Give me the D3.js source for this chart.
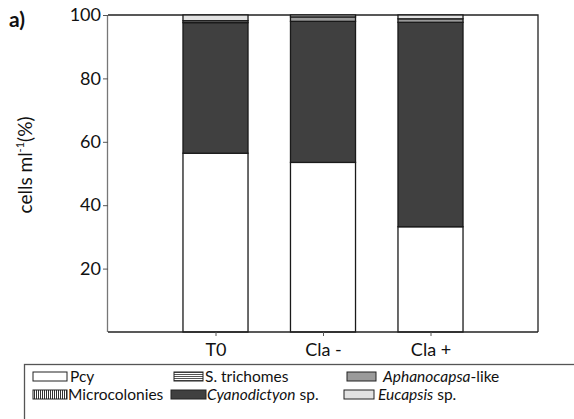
<!DOCTYPE html>
<html>
<head>
<meta charset="utf-8">
<script src="https://cdn.jsdelivr.net/npm/d3@7"></script>
<style>
  body { margin: 0; background: #fff; }
  text { font-family: Lato, "Open Sans", sans-serif; fill: #111; }
</style>
</head>
<body>
<div id="chart"></div>
<script>
const categories = ['T0', 'Cla -', 'Cla +'];
const pcy = [56.4, 53.5, 33.2];
const microcolonies = [0, 0, 0];
const trichomes = [0, 0, 0];
const cyanodictyon = [41.2, 44.5, 64.5];
const aphanocapsa = [0.6, 1.4, 1.1];
const eucapsis = [1.8, 0.6, 1.2];
const yTicks = [20, 40, 60, 80, 100];

const WIDTH = 574;
const HEIGHT = 419;
const LEFT = 108, RIGHT = 538, TOP = 15, BOTTOM = 332;

const series = [
    { key: 'pcy', name: 'Pcy', values: pcy, fill: '#ffffff' },
    { key: 'micro', name: 'Microcolonies', values: microcolonies, fill: 'url(#vlines)' },
    { key: 'tri', name: 'S. trichomes', values: trichomes, fill: 'url(#hlines)' },
    { key: 'cyano', name: 'Cyanodictyon', values: cyanodictyon, fill: '#404040' },
    { key: 'aph', name: 'Aphanocapsa', values: aphanocapsa, fill: '#9a9a9a' },
    { key: 'euc', name: 'Eucapsis', values: eucapsis, fill: '#e2e2e2' }
];

const table = categories.map((c, i) => {
    const row = { cat: c, idx: i };
    series.forEach(s => { row[s.key] = s.values[i]; });
    return row;
});

const svg = d3.select('#chart')
    .append('svg')
    .attr('width', WIDTH)
    .attr('height', HEIGHT);

// patterns for the hatched layers
const defs = svg.append('defs');
const vp = defs.append('pattern').attr('id', 'vlines')
    .attr('patternUnits', 'userSpaceOnUse').attr('width', 2).attr('height', 4);
vp.append('rect').attr('width', 2).attr('height', 4).attr('fill', '#fff');
vp.append('rect').attr('width', 1).attr('height', 4).attr('fill', '#333');
const hp = defs.append('pattern').attr('id', 'hlines')
    .attr('patternUnits', 'userSpaceOnUse').attr('width', 4).attr('height', 2);
hp.append('rect').attr('width', 4).attr('height', 2).attr('fill', '#fff');
hp.append('rect').attr('width', 4).attr('height', 1).attr('fill', '#555');

// scales
const xScale = d3.scaleLinear()
    .domain([0, categories.length + 1])
    .range([LEFT, RIGHT]);
const step = xScale(1) - xScale(0);
const barW = step * 0.605;

const yScale = d3.scaleLinear()
    .domain([0, 100])
    .range([BOTTOM, TOP]);

// plot frame (top & right)
svg.append('path')
    .attr('d', `M${LEFT},${TOP}H${RIGHT}V${BOTTOM}`)
    .attr('fill', 'none')
    .attr('stroke', '#222')
    .attr('stroke-width', 1.3);

// stacked bars
const stack = d3.stack().keys(series.map(s => s.key));
const layers = stack(table);

svg.append('g')
    .selectAll('g')
    .data(layers)
    .enter()
    .append('g')
    .attr('fill', (d, i) => series[i].fill)
    .selectAll('rect')
    .data(d => d)
    .enter()
    .append('rect')
    .attr('x', d => xScale(d.data.idx + 1) - barW / 2)
    .attr('width', barW)
    .attr('y', d => yScale(d[1]))
    .attr('height', d => yScale(d[0]) - yScale(d[1]))
    .attr('stroke', '#1a1a1a')
    .attr('stroke-width', d => (d[1] - d[0]) > 0 ? 1.3 : 0);

// y axis
const yAxis = d3.axisLeft(yScale)
    .tickValues(yTicks)
    .tickSize(5)
    .tickPadding(2);
const gy = svg.append('g')
    .attr('class', 'y-axis')
    .attr('transform', `translate(${LEFT}, 0)`)
    .call(yAxis);
gy.select('.domain').attr('stroke', '#777').attr('stroke-width', 1.3).attr('d', `M-0.5,${TOP}V${BOTTOM}`);
gy.selectAll('.tick line').attr('stroke', '#555');
gy.selectAll('.tick text').style('font-size', '18px').attr('fill', '#111');

// x axis
const xAxis = d3.axisBottom(xScale)
    .tickValues(categories.map((c, i) => i + 1))
    .tickFormat(d => categories[d - 1])
    .tickSize(4)
    .tickPadding(7);
const gx = svg.append('g')
    .attr('class', 'x-axis')
    .attr('transform', `translate(0, ${BOTTOM})`)
    .call(xAxis);
gx.select('.domain').attr('stroke', '#222').attr('stroke-width', 1.3).attr('d', `M${LEFT},0H${RIGHT}`);
gx.selectAll('.tick line').attr('stroke', '#555');
gx.selectAll('.tick text').style('font-size', '18px').attr('fill', '#111');

// y label
const yl = svg.append('text')
    .attr('transform', 'translate(32, 165) rotate(-90)')
    .attr('text-anchor', 'middle')
    .style('font-size', '19px');
yl.append('tspan').text('cells  ml');
yl.append('tspan').attr('dy', -8).style('font-size', '11px').text('-1');
yl.append('tspan').attr('dy', 8).text('(%)');

// panel label
svg.append('text')
    .attr('x', 9)
    .attr('y', 27)
    .style('font-size', '21px')
    .style('font-weight', 'bold')
    .text('a)');

// legend
svg.append('rect')
    .attr('x', 24.5).attr('y', 364.5)
    .attr('width', 560).attr('height', 80)
    .attr('fill', 'none')
    .attr('stroke', '#555')
    .attr('stroke-width', 1.3);

const legendItems = [
    { s: 0, x: 33, y: 372, w: 34, tx: 70, parts: [['Pcy', false]] },
    { s: 2, x: 174, y: 372, w: 29, tx: 205, parts: [['S. trichomes', false]] },
    { s: 4, x: 347, y: 372, w: 29, tx: 383, parts: [['Aphanocapsa', true], ['-like', false]] },
    { s: 1, x: 33, y: 390, w: 34, tx: 68, parts: [['Microcolonies', false]] },
    { s: 3, x: 171, y: 390, w: 35, tx: 207, parts: [['Cyanodictyon', true], [' sp.', false]] },
    { s: 5, x: 344, y: 390, w: 30, tx: 378, parts: [['Eucapsis', true], [' sp.', false]] }
];

const lg = svg.append('g').selectAll('g')
    .data(legendItems)
    .enter()
    .append('g');
lg.append('rect')
    .attr('x', d => d.x)
    .attr('y', d => d.y)
    .attr('width', d => d.w)
    .attr('height', 9)
    .attr('fill', d => series[d.s].fill)
    .attr('stroke', '#222')
    .attr('stroke-width', 1);
lg.append('text')
    .attr('x', d => d.tx)
    .attr('y', d => d.y + 10)
    .style('font-size', '15.5px')
    .each(function(d) {
        const t = d3.select(this);
        d.parts.forEach(p => {
            t.append('tspan').style('font-style', p[1] ? 'italic' : 'normal').text(p[0]);
        });
    });
</script>
</body>
</html>
